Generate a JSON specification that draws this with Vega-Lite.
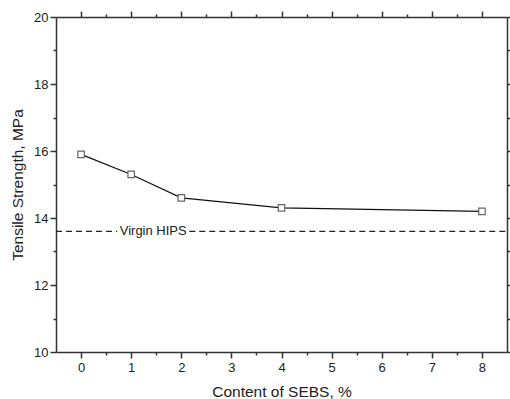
{
  "$schema": "https://vega.github.io/schema/vega-lite/v6.json",
  "autosize": "none",
  "width": 451,
  "height": 335,
  "padding": {"left": 56, "top": 17, "right": 3, "bottom": 47},
  "background": "white",
  "config": {
    "view": {"stroke": null},
    "font": "Liberation Sans",
    "axis": {
      "grid": false,
      "domainColor": "#333333",
      "domainWidth": 1.5,
      "tickColor": "#333333",
      "tickWidth": 1.5,
      "labelColor": "#222222",
      "labelFont": "Liberation Sans",
      "labelFontSize": 13,
      "titleFont": "Liberation Sans",
      "titleFontSize": 15.5,
      "titleFontWeight": "normal",
      "titleColor": "#222222"
    }
  },
  "datasets": {
    "pts": [
      {"content": 0, "strength": 15.9},
      {"content": 1, "strength": 15.3},
      {"content": 2, "strength": 14.6},
      {"content": 4, "strength": 14.3},
      {"content": 8, "strength": 14.2}
    ],
    "ref": [
      {"x1": -0.5, "x2": 0.72, "y": 13.6},
      {"x1": 2.16, "x2": 8.5, "y": 13.6}
    ],
    "lbl": [
      {"x": 1.44, "y": 13.6, "text": "Virgin HIPS"}
    ]
  },
  "resolve": {"axis": {"x": "independent", "y": "independent"}},
  "layer": [
    {
      "data": {"name": "pts"},
      "mark": {"type": "line", "color": "#111111", "strokeWidth": 1.2},
      "encoding": {
        "x": {
          "field": "content", "type": "quantitative",
          "scale": {"domain": [-0.5, 8.5], "nice": false, "zero": false},
          "axis": {
            "orient": "bottom", "values": [0, 1, 2, 3, 4, 5, 6, 7, 8],
            "tickSize": 6, "labelPadding": 3, "title": "Content of SEBS, %",
            "titlePadding": 10, "format": "d"
          }
        },
        "y": {
          "field": "strength", "type": "quantitative",
          "scale": {"domain": [10, 20], "nice": false, "zero": false},
          "axis": {
            "orient": "left", "values": [10, 12, 14, 16, 18, 20],
            "tickSize": 6, "labelPadding": 2, "title": "Tensile Strength, MPa",
            "titlePadding": 8, "format": "d"
          }
        }
      }
    },
    {
      "data": {"name": "pts"},
      "mark": {"type": "point", "shape": "square", "size": 42, "filled": true, "fill": "white", "stroke": "#666666", "strokeWidth": 1.2, "opacity": 1},
      "encoding": {
        "x": {"field": "content", "type": "quantitative", "axis": null},
        "y": {"field": "strength", "type": "quantitative", "axis": null}
      }
    },
    {
      "data": {"name": "ref"},
      "mark": {"type": "rule", "color": "#222222", "strokeWidth": 1.3, "strokeDash": [6, 4]},
      "encoding": {
        "x": {"field": "x1", "type": "quantitative", "axis": null},
        "x2": {"field": "x2"},
        "y": {"field": "y", "type": "quantitative", "axis": null}
      }
    },
    {
      "data": {"name": "lbl"},
      "mark": {"type": "text", "fontSize": 13, "color": "#222222", "align": "center", "baseline": "middle", "font": "Liberation Sans"},
      "encoding": {
        "x": {"field": "x", "type": "quantitative", "axis": null},
        "y": {"field": "y", "type": "quantitative", "axis": null},
        "text": {"field": "text"}
      }
    },
    {
      "data": {"name": "pts"},
      "mark": {"type": "point", "opacity": 0},
      "encoding": {
        "x": {
          "field": "content", "type": "quantitative",
          "axis": {"orient": "top", "values": [0, 1, 2, 3, 4, 5, 6, 7, 8], "tickSize": 6, "labels": false, "title": null}
        },
        "y": {
          "field": "strength", "type": "quantitative",
          "axis": {"orient": "right", "values": [10, 12, 14, 16, 18, 20], "tickSize": 6, "labels": false, "title": null}
        }
      }
    },
    {
      "data": {"name": "pts"},
      "mark": {"type": "point", "opacity": 0},
      "encoding": {
        "x": {
          "field": "content", "type": "quantitative",
          "axis": {"orient": "bottom", "values": [0.5, 1.5, 2.5, 3.5, 4.5, 5.5, 6.5, 7.5], "tickSize": 3, "labels": false, "domain": false, "title": null}
        },
        "y": {
          "field": "strength", "type": "quantitative",
          "axis": {"orient": "left", "values": [11, 13, 15, 17, 19], "tickSize": 3, "labels": false, "domain": false, "title": null}
        }
      }
    },
    {
      "data": {"name": "pts"},
      "mark": {"type": "point", "opacity": 0},
      "encoding": {
        "x": {
          "field": "content", "type": "quantitative",
          "axis": {"orient": "top", "values": [0.5, 1.5, 2.5, 3.5, 4.5, 5.5, 6.5, 7.5], "tickSize": 3, "labels": false, "domain": false, "title": null}
        },
        "y": {
          "field": "strength", "type": "quantitative",
          "axis": {"orient": "right", "values": [11, 13, 15, 17, 19], "tickSize": 3, "labels": false, "domain": false, "title": null}
        }
      }
    }
  ]
}
